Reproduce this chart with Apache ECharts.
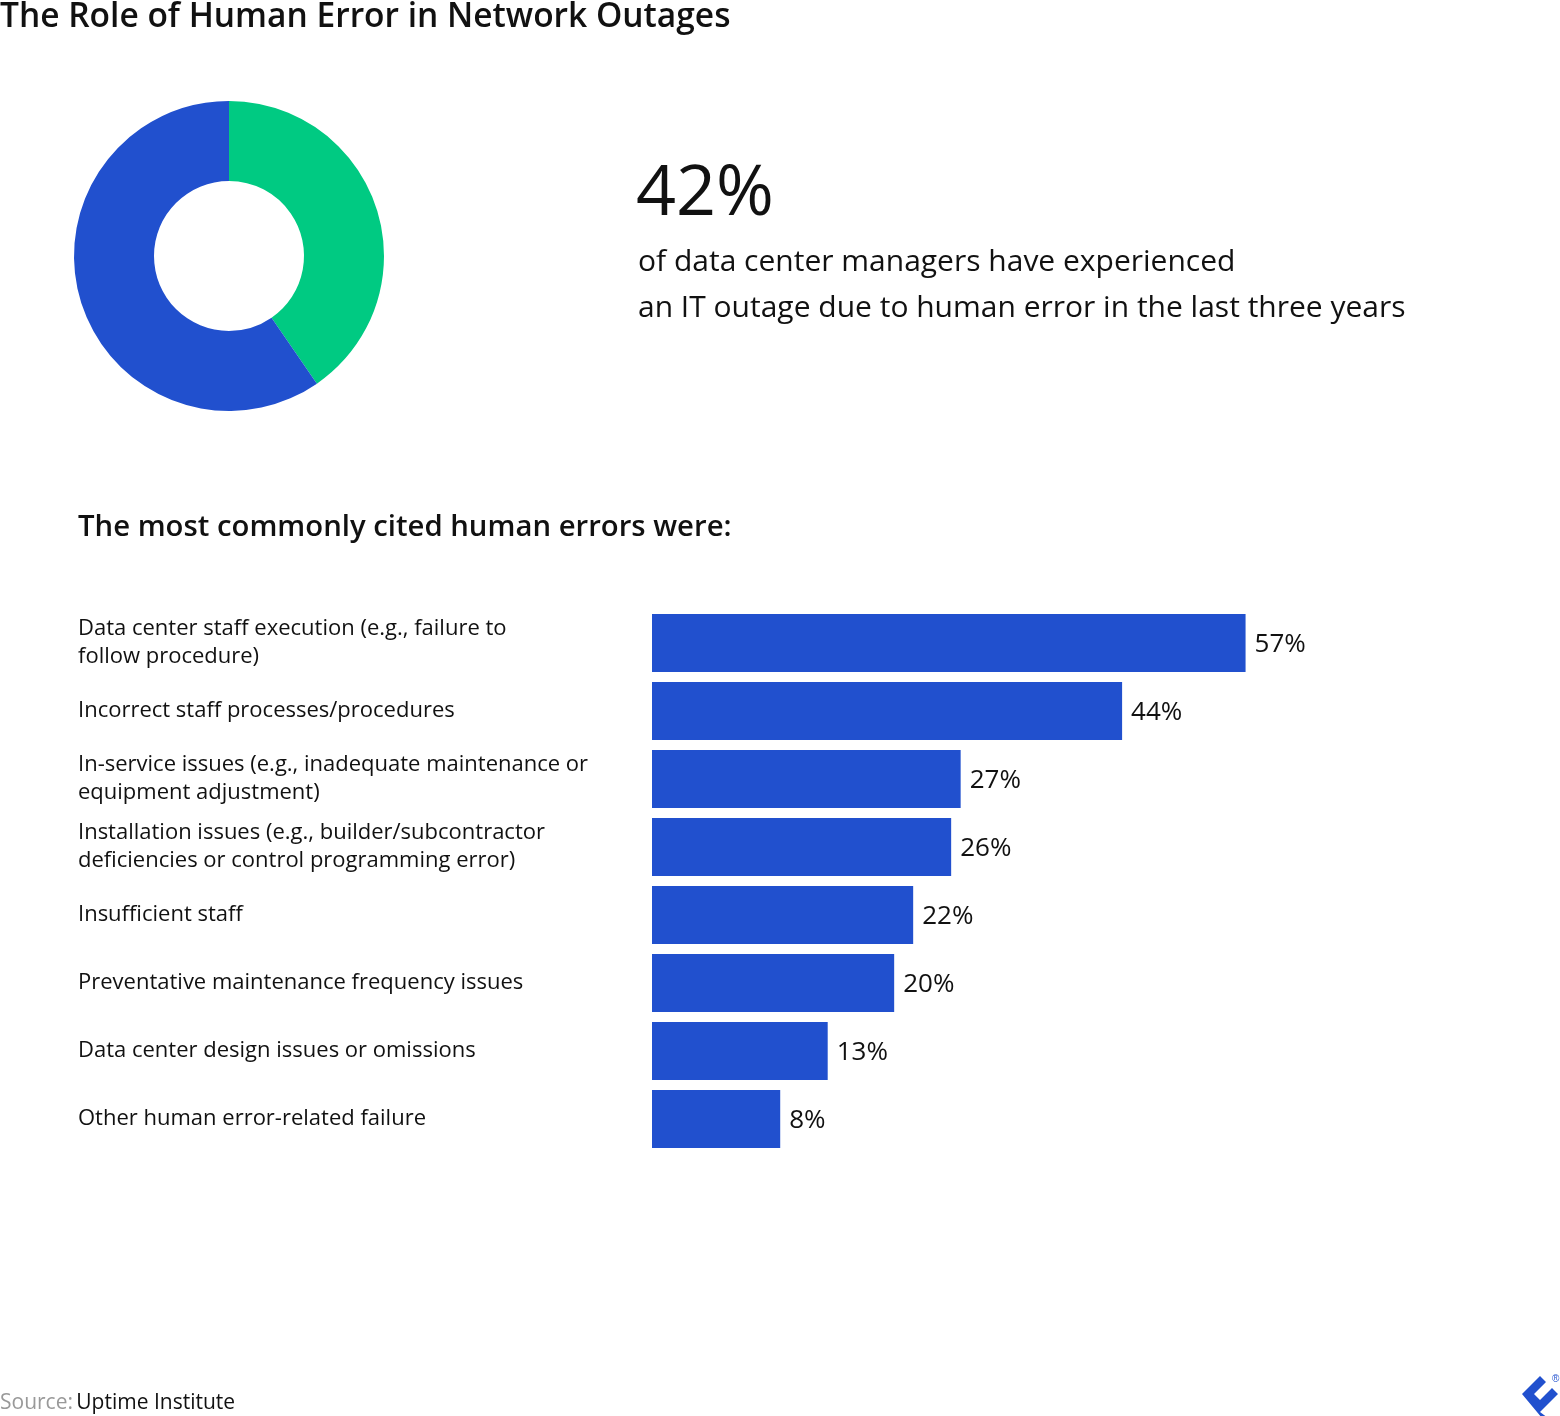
<!DOCTYPE html>
<html>
<head>
<meta charset="utf-8">
<script src="https://cdn.jsdelivr.net/npm/echarts@6/dist/echarts.min.js"></script>
<style>
  html, body { margin: 0; padding: 0; background: #fff; }
  #chart { width: 1560px; height: 1416px; }
</style>
</head>
<body>
<div id="chart"></div>
<script>
// donut: slice sizes as drawn in the original (headline says 42%)
const donutNames = ['Human error outage', 'Other'];
const donutValues = [40.4, 59.6];

// bar chart categories and values (%)
const causes = [
  'Data center staff execution (e.g., failure to\nfollow procedure)',
  'Incorrect staff processes/procedures',
  'In-service issues (e.g., inadequate maintenance or\nequipment adjustment)',
  'Installation issues (e.g., builder/subcontractor\ndeficiencies or control programming error)',
  'Insufficient staff',
  'Preventative maintenance frequency issues',
  'Data center design issues or omissions',
  'Other human error-related failure'
];
const percents = [57, 44, 27, 26, 22, 20, 13, 8];

const FONT = 'Open Sans';
const BLUE = '#2150CE';
const GREEN = '#00CA82';

const chart = echarts.init(document.getElementById('chart'));

const option = {
  backgroundColor: '#ffffff',
  textStyle: { fontFamily: FONT },
  animation: false,
  graphic: [
    {
      type: 'text', left: 0, top: 0,
      style: { text: 'The Role of Human Error in Network Outages', fontFamily: FONT, fontSize: 33.5, fontWeight: 600, fill: '#111' }
    },
    {
      type: 'text', left: 636, top: 160,
      style: { text: '42%', fontFamily: FONT, fontSize: 70, fill: '#111' }
    },
    {
      type: 'text', left: 638, top: 239,
      style: {
        text: 'of data center managers have experienced\nan IT outage due to human error in the last three years',
        fontFamily: FONT, fontSize: 30, lineHeight: 46, fill: '#111'
      }
    },
    {
      type: 'text', left: 78, top: 513,
      style: { text: 'The most commonly cited human errors were:', fontFamily: FONT, fontSize: 29.3, fontWeight: 600, fill: '#111' }
    },
    {
      type: 'text', left: 0, top: 1393,
      style: {
        text: '{g|Source:} {k|Uptime Institute}',
        rich: {
          g: { fontFamily: FONT, fontSize: 21, fill: '#999' },
          k: { fontFamily: FONT, fontSize: 21, fill: '#111' }
        }
      }
    },
    {
      type: 'group', left: 1522, top: 1374,
      children: [
        { type: 'polygon', shape: { points: [[18, 0], [24, 6], [12, 18], [18, 24], [30, 12], [36, 18], [18, 36], [26, 42], [20, 42], [0, 18]] }, style: { fill: BLUE } },
        { type: 'text', left: 30, top: -2, style: { text: '®', fontSize: 10, fill: BLUE } }
      ]
    }
  ],
  grid: { left: 652, top: 609, width: 812, height: 544, containLabel: false },
  // bars start at the axis start (slightly below zero), as in the original
  xAxis: {
    type: 'value', min: -5.5, max: 80, startValue: -5.5,
    show: false
  },
  yAxis: {
    type: 'category', data: causes, inverse: true,
    axisLine: { show: false }, axisTick: { show: false },
    axisLabel: {
      align: 'left', margin: 574, fontFamily: FONT, fontSize: 22, lineHeight: 28,
      padding: [8, 0, 0, 0], color: '#111'
    }
  },
  series: [
    {
      type: 'pie',
      center: [229, 256],
      radius: [75, 155],
      startAngle: 90,
      clockwise: true,
      label: { show: false },
      labelLine: { show: false },
      silent: true,
      data: donutNames.map((n, i) => ({
        name: n, value: donutValues[i],
        itemStyle: { color: i === 0 ? GREEN : BLUE }
      }))
    },
    {
      type: 'bar',
      data: percents,
      barWidth: 58,
      itemStyle: { color: BLUE },
      label: {
        show: true, position: 'right', distance: 9, offset: [0, 2],
        formatter: '{c}%', fontFamily: FONT, fontSize: 26, color: '#111'
      }
    }
  ]
};

chart.setOption(option);
</script>
</body>
</html>
